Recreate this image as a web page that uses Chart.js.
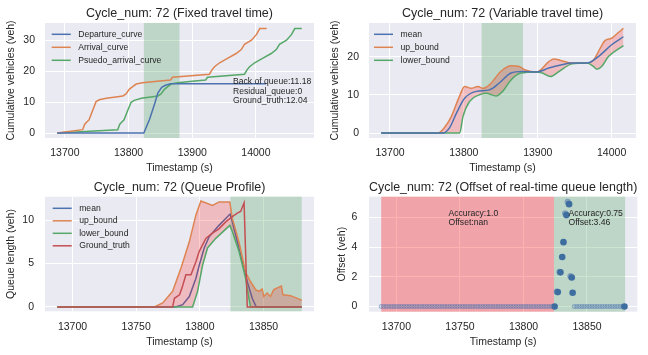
<!DOCTYPE html>
<html><head><meta charset="utf-8">
<script src="https://cdn.jsdelivr.net/npm/chart.js@4/dist/chart.umd.min.js"></script>
<style>
html,body{margin:0;padding:0;background:#fff;}
body{width:648px;height:355px;position:relative;overflow:hidden;}
canvas{position:absolute;}
</style></head><body>
<canvas id="c1" width="324" height="178" style="left:0;top:0"></canvas>
<canvas id="c2" width="324" height="178" style="left:324px;top:0"></canvas>
<canvas id="c3" width="324" height="178" style="left:0;top:177px"></canvas>
<canvas id="c4" width="324" height="178" style="left:324px;top:177px"></canvas>
<script>
// ---------- DATA ----------
// Panel 1: Fixed travel time (cumulative curves)
const depX = [13688, 13824, 13833, 13841, 13846, 13852, 13858, 13866, 14016];
const depY = [0, 0, 4.5, 9.5, 13.0, 14.8, 15.5, 16.0, 16.0];
const arrX = [13688, 13728, 13731, 13734, 13738, 13743, 13749, 13754, 13765, 13780, 13791, 13796, 13801, 13806, 13812, 13822, 13845, 13866, 13869, 13927, 13931, 13935, 13943, 13956, 13969, 13977, 13982, 13993, 14001, 14006, 14017];
const arrY = [0, 1.1, 2.8, 3.5, 4.3, 7.0, 10.2, 10.8, 11.3, 11.7, 12.0, 12.7, 14.2, 15.0, 15.9, 16.3, 16.8, 17.2, 18.1, 19.1, 20.5, 21.5, 22.8, 24.3, 25.8, 27.1, 28.8, 30.1, 32.0, 33.9, 33.9];
const psX = [13688, 13783, 13786, 13789, 13793, 13798, 13804, 13809, 13820, 13835, 13846, 13851, 13856, 13861, 13867, 13877, 13900, 13921, 13924, 13982, 13986, 13990, 13998, 14011, 14024, 14032, 14037, 14048, 14056, 14061, 14072];
const psY = [0, 1.1, 2.8, 3.5, 4.3, 7.0, 10.0, 10.6, 11.3, 11.7, 12.0, 12.7, 14.1, 15.0, 15.9, 16.3, 16.8, 17.2, 18.1, 19.1, 20.5, 21.5, 22.8, 24.3, 25.8, 27.1, 28.8, 30.1, 32.0, 33.9, 33.9];
const notes1 = ["Back of queue:11.18", "Residual_queue:0", "Ground_truth:12.04"];

// Panel 2: Variable travel time
const vMeanX = [13688, 13772, 13781, 13790, 13801, 13816.8, 13834.6, 13848, 13863.8, 13879, 13899, 13915, 13931, 13946.5, 13966.6, 13982, 14000, 14016];
const vMeanY = [0, 0, 1.5, 5.2, 9.1, 10.9, 11.3, 13.1, 15.7, 16.1, 16.0, 17.0, 17.8, 18.3, 18.3, 20.0, 23.1, 25.2];
const vUpX = [13688, 13765, 13774, 13783, 13794, 13801, 13810, 13819, 13825.6, 13834.6, 13850, 13863.8, 13875, 13883, 13899, 13915, 13922, 13931, 13946.5, 13966.6, 13975.6, 13984.6, 13991, 14000, 14009, 14016];
const vUpY = [0, 0, 1.5, 4.3, 9.6, 12.2, 11.7, 12.2, 11.7, 12.6, 16.1, 17.6, 17.4, 16.5, 16.0, 18.7, 19.4, 19.0, 18.3, 18.3, 19.1, 22.2, 24.2, 24.8, 26.3, 27.4];
const vLowX = [13688, 13794.4, 13798.8, 13807.8, 13821, 13830, 13843.6, 13852.5, 13863.8, 13877, 13899, 13906, 13917.4, 13928.6, 13946.5, 13966.6, 13975.6, 13980, 13986.6, 13995.7, 14016];
const vLowY = [0, 0, 4.3, 8.3, 10.0, 10.4, 9.7, 10.9, 13.9, 15.7, 16.0, 15.7, 14.8, 16.1, 18.1, 18.3, 17.4, 16.7, 17.4, 20.0, 22.9];

// Panel 3: Queue profile
const qMeanX = [13688, 13781, 13786.5, 13791.7, 13796.9, 13799.5, 13803.4, 13807.3, 13815, 13823.7, 13825.5, 13829.4, 13833.3, 13837.2, 13841.1, 13844.3, 13880];
const qMeanY = [0, 0, 0.27, 1.2, 3.3, 4.8, 6.8, 8.1, 9.4, 10.7, 9.8, 7.5, 5.2, 2.9, 1.0, 0, 0];
const qUpX = [13688, 13764.3, 13770.8, 13778.6, 13785.2, 13791.7, 13796.9, 13800.8, 13809.9, 13815.1, 13823.5, 13825.5, 13830.7, 13835.9, 13839.8, 13843.8, 13846.4, 13848.9, 13850.2, 13852.8, 13855.4, 13858, 13864, 13865.2, 13871.2, 13878.9, 13880];
const qUpY = [0, 0, 0.46, 1.8, 4.5, 7.5, 10.6, 12.2, 11.7, 12.1, 12.1, 10.2, 7.5, 4.0, 2.9, 2.0, 1.8, 2.06, 1.2, 1.6, 1.2, 2.0, 2.4, 1.4, 1.3, 0.84, 0.75];
const qLowX = [13688, 13794.3, 13798.2, 13802.1, 13806, 13812.5, 13823.5, 13825.5, 13830.7, 13835.9, 13838.5, 13839.8, 13880];
const qLowY = [0, 0, 1.8, 4.8, 6.8, 7.9, 9.4, 8.7, 6.4, 3.3, 1.0, 0, 0];
const qGtX = [13688, 13778.6, 13780, 13784, 13786, 13789, 13793, 13796.9, 13799.5, 13804.7, 13809.9, 13815, 13820.3, 13825.5, 13829.4, 13832, 13834.7, 13837.2, 13880];
const qGtY = [0, 0, 1.0, 1.4, 2.2, 3.7, 3.7, 5.2, 6.4, 7.9, 8.5, 9.0, 9.8, 10.4, 10.8, 11.0, 12.0, 0, 0];

// Panel 4: Offset of real-time queue length
const zeroX = [13688,13690,13692,13694,13696,13698,13700,13702,13704,13706,13708,13710,13712,13714,13716,13718,13720,13722,13724,13726,13728,13730,13732,13734,13736,13738,13740,13742,13744,13746,13748,13750,13752,13754,13756,13758,13760,13762,13764,13766,13768,13770,13772,13774,13776,13778,13780,13782,13784,13786,13788,13790,13792,13794,13796,13798,13800,13802,13804,13806,13808,13810,13812,13814,13816,13818,13820,13822,
  13840,13842,13844,13846,13848,13850,13852,13854,13856,13858,13860,13862,13864,13866,13868,13870,13872,13874,13876,13878];
const offX = [13824.5, 13827, 13829.1, 13830.5, 13831.5, 13833.8, 13835.9, 13838, 13838.7, 13879.5];
const offY = [0, 0.97, 2.3, 3.33, 4.33, 6.15, 6.89, 1.95, 0.93, 0];
const ghostX = [13826.2, 13828.4, 13832.8, 13834.8, 13837];
const ghostY = [1.0, 2.33, 6.27, 7.04, 2.04];
const notes4a = ["Accuracy:1.0", "Offset:nan"];
const notes4b = ["Accuracy:0.75", "Offset:3.46"];

// Shaded windows
const greenWin = [13824, 13880];
const redWin = [13688, 13824];

// ---------- STYLE / HELPERS ----------
const FONT = "'Liberation Sans', Arial, Helvetica, sans-serif";
const TXT = '#262626';
const BLUE = '#4c72b0', ORANGE = '#dd8452', GREEN = '#55a868', RED = '#c44e52';
const GREEN_SPAN = 'rgba(85,168,104,0.3)', RED_SPAN = 'rgba(255,0,0,0.3)', FILL = 'rgba(255,0,0,0.2)';

const pts = (xs, ys) => xs.map((v, i) => ({x: v, y: ys[i]}));

const areaBg = {id: 'areaBg', beforeDraw(chart) {
  const {ctx, chartArea: a} = chart;
  ctx.save(); ctx.fillStyle = '#eaeaf2'; ctx.fillRect(a.left, a.top, a.width, a.height); ctx.restore();
}};
function spanPlugin(items) {
  return {id: 'spans', beforeDatasetsDraw(chart) {
    const {ctx, chartArea: a, scales: {x}} = chart;
    ctx.save();
    items.forEach(s => {
      const x0 = x.getPixelForValue(s[0]), x1 = x.getPixelForValue(s[1]);
      ctx.fillStyle = s[2]; ctx.fillRect(x0, a.top, x1 - x0, a.height);
    });
    ctx.restore();
  }};
}
function legendPlugin(dx, dy, gap) {
  return {id: 'lg', afterDatasetsDraw(chart) {
    const {ctx, chartArea: a} = chart;
    ctx.save();
    ctx.font = '8.6px ' + FONT; ctx.textBaseline = 'middle';
    chart.data.datasets.filter(d => d.inLegend).forEach((d, i) => {
      const y = a.top + dy + i * gap;
      ctx.strokeStyle = d.borderColor; ctx.lineWidth = 1.5;
      ctx.beginPath(); ctx.moveTo(a.left + dx, y); ctx.lineTo(a.left + dx + 19, y); ctx.stroke();
      ctx.fillStyle = TXT; ctx.fillText(d.label, a.left + dx + 26.5, y);
    });
    ctx.restore();
  }};
}
function notesPlugin(list) {
  return {id: 'notes', afterDatasetsDraw(chart) {
    const {ctx, scales: {x, y}} = chart;
    ctx.save(); ctx.font = '8.6px ' + FONT; ctx.fillStyle = TXT; ctx.textBaseline = 'alphabetic';
    list.forEach(n => {
      const px = x.getPixelForValue(n.x), py = y.getPixelForValue(n.y);
      n.lines.forEach((t, i) => ctx.fillText(t, px, py - (n.lines.length - 1 - i) * 9.3));
    });
    ctx.restore();
  }};
}

function makeChart(id, cfg) {
  return new Chart(document.getElementById(id), {
    type: cfg.type || 'line',
    data: {datasets: cfg.datasets},
    options: {
      responsive: false, animation: false, events: [],
      layout: {padding: {top: 0, left: 0, bottom: 0, right: cfg.padR}},
      elements: {point: {radius: 0}, line: {borderWidth: 1.5}},
      plugins: {
        legend: {display: false}, tooltip: {enabled: false},
        title: {display: true, fullSize: false, text: cfg.title, color: TXT,
          font: {family: FONT, size: 12.5, weight: 'normal'}, padding: {top: cfg.tT, bottom: cfg.tB}}
      },
      scales: {
        x: {type: 'linear', min: cfg.xMin, max: cfg.xMax,
          border: {display: false}, grid: {color: '#ffffff', lineWidth: 1, drawTicks: false},
          ticks: {color: TXT, font: {family: FONT, size: 10.5}, padding: cfg.xTickPad, maxRotation: 0, callback: v => String(v)},
          afterBuildTicks: a => { a.ticks = cfg.xTicks.map(v => ({value: v})); },
          afterFit: s => { s.height = cfg.xH; },
          title: {display: true, text: 'Timestamp (s)', color: TXT, font: {family: FONT, size: 10.5}, padding: {top: 0, bottom: cfg.xTitlePad}}
        },
        y: {type: 'linear', min: cfg.yMin, max: cfg.yMax,
          border: {display: false}, grid: {color: '#ffffff', lineWidth: 1, drawTicks: false},
          ticks: {color: TXT, font: {family: FONT, size: 10.5}, padding: cfg.yTickPad, callback: v => String(v)},
          afterBuildTicks: a => { a.ticks = cfg.yTicks.map(v => ({value: v})); },
          afterFit: s => { s.width = 45; },
          title: {display: true, text: cfg.yTitle, color: TXT, font: {family: FONT, size: 10.5}, padding: {top: cfg.yTitlePad, bottom: 0}}
        }
      }
    },
    plugins: [areaBg, spanPlugin(cfg.spans), legendPlugin(cfg.lgX, cfg.lgY, cfg.lgGap), notesPlugin(cfg.notes || [])]
  });
}

const line = (label, xs, ys, color, extra) => Object.assign({
  label, data: pts(xs, ys), borderColor: color, backgroundColor: color, borderWidth: 1.5,
  pointRadius: 0, fill: false, inLegend: true, tension: 0
}, extra || {});

// ---------- CHARTS ----------
makeChart('c1', {
  title: 'Cycle_num: 72 (Fixed travel time)', yTitle: 'Cumulative vehicles (veh)',
  xMin: 13668.8, xMax: 14091.2, yMin: -1.6, yMax: 35.7,
  xTicks: [13700, 13800, 13900, 14000], yTicks: [0, 10, 20, 30],
  padR: 10, tT: 5.8, tB: 2.2, xH: 40, xTickPad: 8.5, xTitlePad: 3.4, yTickPad: 10, yTitlePad: 4.7,
  spans: [[greenWin[0], greenWin[1], GREEN_SPAN]],
  lgX: 6.7, lgY: 11.3, lgGap: 13,
  notes: [{x: 13964, y: 9.8, lines: notes1}],
  datasets: [
    line('Departure_curve', depX, depY, BLUE, {order: 0}),
    line('Arrival_curve', arrX, arrY, ORANGE, {order: 1}),
    line('Psuedo_arrival_curve', psX, psY, GREEN, {order: 2})
  ]
});

makeChart('c2', {
  title: 'Cycle_num: 72 (Variable travel time)', yTitle: 'Cumulative vehicles (veh)',
  xMin: 13671.6, xMax: 14033, yMin: -1.3, yMax: 28.8,
  xTicks: [13700, 13800, 13900, 14000], yTicks: [0, 10, 20],
  padR: 12, tT: 5.8, tB: 2.2, xH: 40, xTickPad: 8.5, xTitlePad: 3.4, yTickPad: 10, yTitlePad: 4.7,
  spans: [[greenWin[0], greenWin[1], GREEN_SPAN]],
  lgX: 5, lgY: 11.3, lgGap: 13,
  datasets: [
    line('mean', vMeanX, vMeanY, BLUE, {order: 0, cubicInterpolationMode: 'monotone'}),
    line('up_bound', vUpX, vUpY, ORANGE, {order: 2, cubicInterpolationMode: 'monotone', fill: 2, backgroundColor: FILL}),
    line('lower_bound', vLowX, vLowY, GREEN, {order: 1, cubicInterpolationMode: 'monotone'})
  ]
});

makeChart('c3', {
  title: 'Cycle_num: 72 (Queue Profile)', yTitle: 'Queue length (veh)',
  xMin: 13678.4, xMax: 13889.6, yMin: -0.5, yMax: 12.7,
  xTicks: [13700, 13750, 13800, 13850], yTicks: [0, 5, 10],
  padR: 10, tT: 3.2, tB: 1.5, xH: 43.7, xTickPad: 9.5, xTitlePad: 7, yTickPad: 11, yTitlePad: 4.7,
  spans: [[greenWin[0], greenWin[1], GREEN_SPAN]],
  lgX: 7.7, lgY: 11.6, lgGap: 12.5,
  datasets: [
    line('mean', qMeanX, qMeanY, BLUE, {order: 3}),
    line('up_bound', qUpX, qUpY, ORANGE, {order: 2, fill: 2, backgroundColor: FILL}),
    line('lower_bound', qLowX, qLowY, GREEN, {order: 1}),
    line('Ground_truth', qGtX, qGtY, RED, {order: 0})
  ]
});

makeChart('c4', {
  type: 'scatter',
  title: 'Cycle_num: 72 (Offset of real-time queue length)', yTitle: 'Offset (veh)',
  xMin: 13678.4, xMax: 13889.6, yMin: -0.35, yMax: 7.39,
  xTicks: [13700, 13750, 13800, 13850], yTicks: [0, 2, 4, 6],
  padR: 10.7, tT: 3.2, tB: 1.5, xH: 43.3, xTickPad: 9.5, xTitlePad: 7, yTickPad: 11.7, yTitlePad: 12,
  spans: [[redWin[0], redWin[1], RED_SPAN], [greenWin[0], greenWin[1], GREEN_SPAN]],
  lgX: 0, lgY: 0, lgGap: 0,
  notes: [{x: 13741, y: 5.47, lines: notes4a}, {x: 13835.4, y: 5.47, lines: notes4b}],
  datasets: [
    {label: 'offset', data: pts(offX, offY), pointRadius: 3.3, backgroundColor: '#3d6e9f', borderWidth: 0, order: 0},
    {label: 'offset_prev', data: pts(ghostX, ghostY), pointRadius: 3.1, backgroundColor: 'rgba(76,114,176,0.55)', borderWidth: 0, order: 1},
    {label: 'zero', data: zeroX.map(v => ({x: v, y: 0})), pointRadius: 2.1, backgroundColor: 'rgba(76,114,176,0.2)', borderColor: 'rgba(76,114,176,0.55)', borderWidth: 0.8, order: 2}
  ]
});
</script>
</body></html>
